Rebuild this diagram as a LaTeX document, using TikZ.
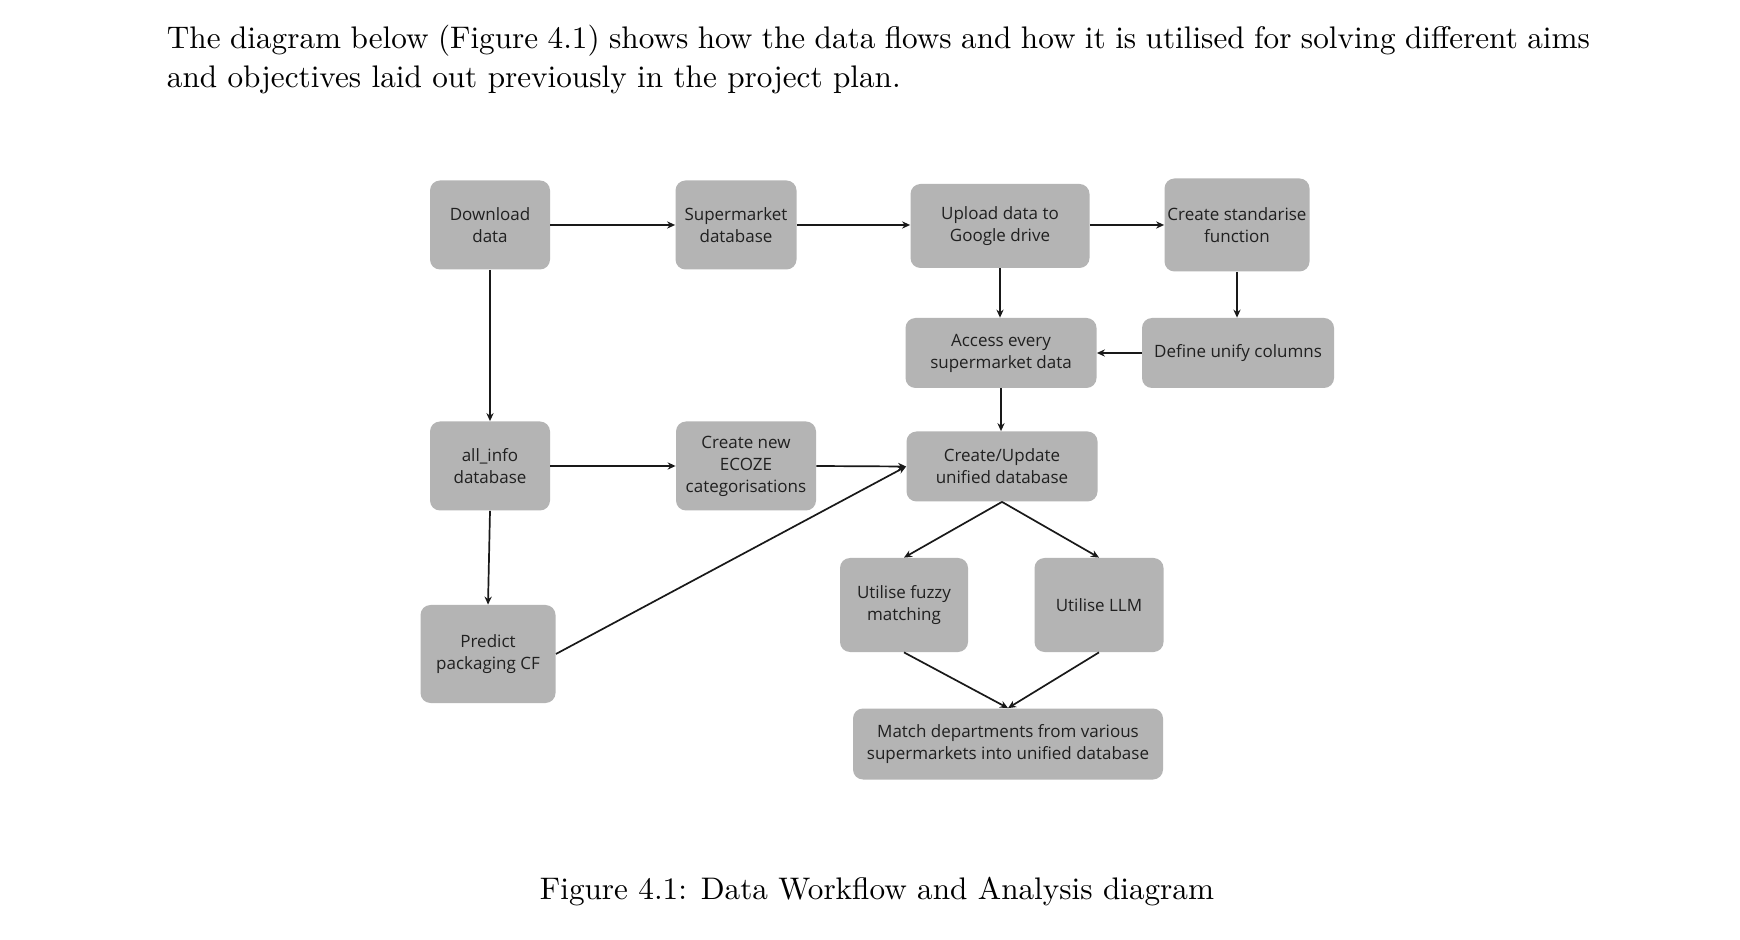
\documentclass[tikz,border=0pt]{standalone}
\usepackage{fontspec}
\newfontfamily\boxfont{Open Sans}
\newfontfamily\lmten[Ligatures=TeX]{lmroman10-regular.otf}
\usetikzlibrary{arrows.meta}
\definecolor{boxgray}{RGB}{180,180,180}
\definecolor{boxtext}{RGB}{32,32,32}
\tikzset{
  box/.style={rounded corners=5pt, fill=boxgray, text=boxtext, align=center,
    font=\boxfont\fontsize{8.5}{11}\selectfont, inner sep=0pt},
  arr/.style={-{Stealth[length=4pt,width=3.6pt]}, line width=0.85pt, black!90},
  bodytext/.style={inner sep=0pt, font=\lmten\fontsize{15.6}{19.4}\selectfont}
}
\begin{document}
\begin{tikzpicture}[x=0.5pt,y=-0.5pt]
\useasboundingbox[fill=white] (0,0) rectangle (1740,940);
\node[bodytext, anchor=base west] (t1) at (166.5,48.8) {\hbox to 711.5pt{The diagram below (Figure 4.1) shows how the data flows and how it is utilised for solving different aims}};
\node[bodytext, anchor=base west] (t2) at (166.5,87.6) {and objectives laid out previously in the project plan.};

\node[box, minimum width=60pt, minimum height=44.5pt] (download) at (490,225) {Download\\data};
\node[box, minimum width=60.5pt, minimum height=44.5pt] (super) at (736,225) {Supermarket\\database};
\node[box, minimum width=89.5pt, minimum height=42pt] (upload) at (1000,226) {Upload data to\\Google drive};
\node[box, minimum width=72.5pt, minimum height=46.5pt] (stand) at (1237,225) {Create standarise\\function};
\node[box, minimum width=95.5pt, minimum height=35pt] (access) at (1001,353) {Access every\\supermarket data};
\node[box, minimum width=96pt, minimum height=35pt] (define) at (1238,353) {Define unify columns};
\node[box, minimum width=60pt, minimum height=44.5pt] (allinfo) at (490,466) {all\_info\\database};
\node[box, minimum width=70pt, minimum height=44.5pt] (ecoze) at (746,466) {Create new\\ECOZE\\categorisations};
\node[box, minimum width=95.5pt, minimum height=35pt] (unified) at (1002,466.5) {Create/Update\\unified database};
\node[box, minimum width=67.5pt, minimum height=49pt] (predict) at (488,654) {Predict\\packaging CF};
\node[box, minimum width=64pt, minimum height=47pt] (fuzzy) at (904,605) {Utilise fuzzy\\matching};
\node[box, minimum width=64.5pt, minimum height=47pt] (llm) at (1099,605) {Utilise LLM};
\node[box, minimum width=155pt, minimum height=35.5pt] (match) at (1008,744) {Match departments from various\\supermarkets into unified database};

\draw[arr] (download) -- (super);
\draw[arr] (super) -- (upload.west |- super.east);
\draw[arr] (upload.east |- stand.west) -- (stand.west);
\draw[arr] (download.south) -- (allinfo.north);
\draw[arr] (upload.south) -- (upload.south |- access.north);
\draw[arr] (stand.south) -- (stand.south |- define.north);
\draw[arr] (define.west) -- (access.east);
\draw[arr] (access.south) -- (access.south |- unified.north);
\draw[arr] (allinfo) -- (ecoze);
\draw[arr] (ecoze.east) -- (unified.west);
\draw[arr] (allinfo.south) -- (predict.north);
\draw[arr] (predict.east) -- (unified.west);
\draw[arr] (unified.south) -- (fuzzy.north);
\draw[arr] (unified.south) -- (llm.north);
\draw[arr] (fuzzy.south) -- (match.north);
\draw[arr] (llm.south) -- (match.north);

\node[bodytext, anchor=base] (caption) at (877,899) {Figure 4.1: Data Workflow and Analysis diagram};
\end{tikzpicture}
\end{document}
